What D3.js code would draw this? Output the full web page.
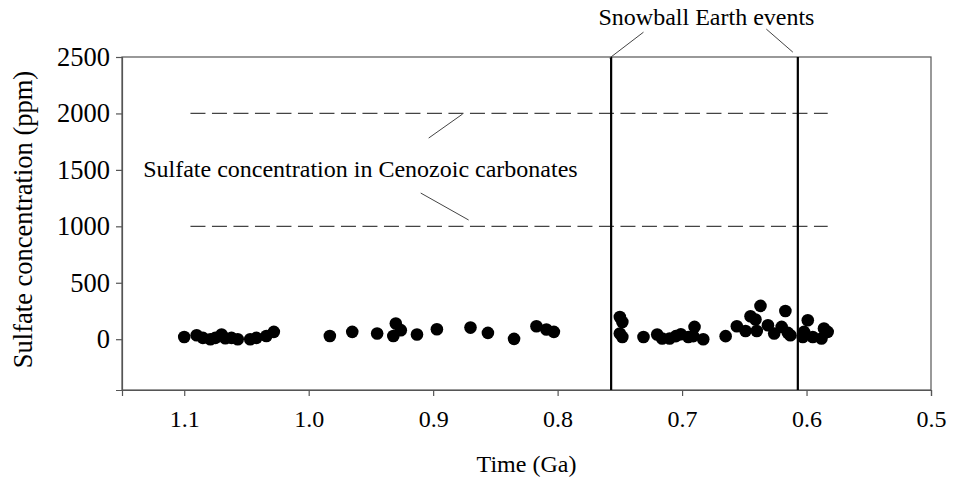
<!DOCTYPE html>
<html>
<head>
<meta charset="utf-8">
<script src="https://cdn.jsdelivr.net/npm/d3@7"></script>
<style>
  body { margin: 0; background: #fff; }
  svg { display: block; }
  svg text { font-family: "Liberation Serif", "Times New Roman", serif; }
</style>
</head>
<body>
<svg width="955" height="478"></svg>
<script>

// time (Ga) of each sample
const ages = [
    1.100, 1.090, 1.085, 1.079, 1.075, 1.070, 1.067, 1.062, 1.057, 1.047, 1.042, 1.034, 1.028,
    0.983, 0.965, 0.945, 0.930, 0.926, 0.932, 0.913, 0.897, 0.870, 0.856, 0.835, 0.817, 0.809, 0.803,
    0.750, 0.748, 0.750, 0.748, 0.731, 0.720, 0.716, 0.710, 0.705, 0.701, 0.695, 0.690, 0.691, 0.683,
    0.665, 0.656, 0.649, 0.640, 0.645, 0.641, 0.637, 0.631, 0.626, 0.620, 0.617, 0.615, 0.613,
    0.602, 0.599, 0.603, 0.595, 0.588, 0.586, 0.583
];

// sulfate concentration (ppm)
const sulfate = [
    20, 35, 12, 0, 12, 42, 9, 12, 0, 0, 12, 29, 65,
    29, 65, 50, 139, 80, 29, 42, 88, 103, 56, 3, 115, 86, 65,
    197, 153, 50, 20, 20, 42, 6, 6, 27, 44, 20, 109, 27, 0,
    27, 115, 73, 73, 204, 174, 295, 124, 50, 109, 250, 56, 35,
    65, 168, 20, 20, 6, 95, 65
];

const xTicks = [1.1, 1.0, 0.9, 0.8, 0.7, 0.6, 0.5];
const yTicks = [0, 500, 1000, 1500, 2000, 2500];

const snowballEvents = [0.757, 0.607];
const cenozoicLevels = [2000, 1000];
const cenozoicSpan = [1.095, 0.583];

const svg = d3.select('svg');

const margin = {top: 57, right: 24, bottom: 88, left: 122};
const width = 955, height = 478;

const x = d3.scaleLinear()
    .domain([1.15, 0.5])
    .range([margin.left, width - margin.right]);

const y = d3.scaleLinear()
    .domain([-450, 2500])
    .range([height - margin.bottom, margin.top]);

const axisColor = '#555';
const serif = '"Liberation Serif", "Times New Roman", serif';

// frame
svg.append('rect')
    .attr('x', x(1.15))
    .attr('y', y(2500))
    .attr('width', x(0.5) - x(1.15))
    .attr('height', y(-450) - y(2500))
    .attr('fill', 'none')
    .attr('stroke', axisColor)
    .attr('stroke-width', 1.2);

// x axis
const xAxis = svg.append('g')
    .attr('transform', `translate(0, ${y(-450)})`)
    .call(d3.axisBottom(x).tickValues(xTicks).tickFormat(d3.format('.1f')).tickSize(6).tickPadding(14));

// y axis
const yAxis = svg.append('g')
    .attr('transform', `translate(${x(1.15)}, 0)`)
    .call(d3.axisLeft(y).tickValues(yTicks).tickFormat(d3.format('d')).tickSize(6).tickPadding(6));

[xAxis, yAxis].forEach(g => {
    g.attr('font-family', serif);
    g.select('.domain').attr('stroke', axisColor).attr('stroke-width', 1.2);
    g.selectAll('.tick line').attr('stroke', axisColor).attr('stroke-width', 1.2);
    g.selectAll('.tick text').attr('fill', '#000');
});

xAxis.attr('font-size', 24);
yAxis.attr('font-size', 26.5);

// axis titles
svg.append('text')
    .attr('x', (x(1.15) + x(0.5)) / 2)
    .attr('y', 472)
    .attr('text-anchor', 'middle')
    .attr('font-size', 24)
    .text('Time (Ga)');

svg.append('text')
    .attr('transform', `translate(32, ${(y(-450) + y(2500)) / 2 - 4}) rotate(-90)`)
    .attr('text-anchor', 'middle')
    .attr('font-size', 26.5)
    .text('Sulfate concentration (ppm)');

// Cenozoic reference levels
svg.append('g')
    .selectAll('line')
    .data(cenozoicLevels)
    .join('line')
    .attr('x1', x(cenozoicSpan[0]))
    .attr('x2', x(cenozoicSpan[1]))
    .attr('y1', d => y(d))
    .attr('y2', d => y(d))
    .attr('stroke', '#444')
    .attr('stroke-width', 1.2)
    .attr('stroke-dasharray', '15,6.5');

// snowball earth events
svg.append('g')
    .selectAll('line')
    .data(snowballEvents)
    .join('line')
    .attr('x1', d => x(d))
    .attr('x2', d => x(d))
    .attr('y1', y(2500))
    .attr('y2', y(-450))
    .attr('stroke', '#000')
    .attr('stroke-width', 2.2);

// leader lines (data units)
const leaders = [
    [[0.731, 2720], [0.7583, 2490]],
    [[0.6323, 2747], [0.611, 2543]],
    [[0.9036, 1782], [0.8763, 1995]],
    [[0.910, 1295], [0.8715, 1056]]
];

svg.append('g')
    .selectAll('line')
    .data(leaders)
    .join('line')
    .attr('x1', d => x(d[0][0]))
    .attr('y1', d => y(d[0][1]))
    .attr('x2', d => x(d[1][0]))
    .attr('y2', d => y(d[1][1]))
    .attr('stroke', '#444')
    .attr('stroke-width', 1);

svg.append('text')
    .attr('x', (x(0.757) + x(0.607)) / 2 + 2)
    .attr('y', 25)
    .attr('text-anchor', 'middle')
    .attr('font-size', 24)
    .text('Snowball Earth events');

svg.append('text')
    .attr('x', x(1.133))
    .attr('y', y(1437))
    .attr('font-size', 24)
    .text('Sulfate concentration in Cenozoic carbonates');

// data points
svg.append('g')
    .selectAll('circle')
    .data(ages.map((a, i) => ({age: a, value: sulfate[i]})))
    .join('circle')
    .attr('cx', d => x(d.age))
    .attr('cy', d => y(d.value))
    .attr('r', 6.3)
    .attr('fill', '#000');

</script>
</body>
</html>
